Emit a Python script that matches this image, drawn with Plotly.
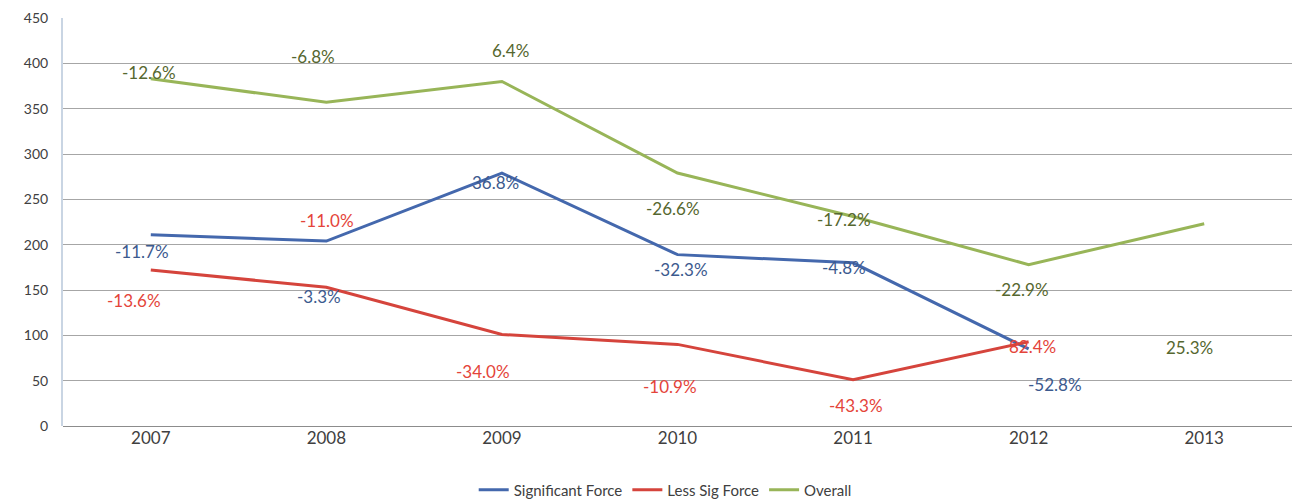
import plotly.graph_objects as go

years = ["2007", "2008", "2009", "2010", "2011", "2012", "2013"]
sig_force = [211, 204, 279, 189, 180, 85]
less_sig_force = [172, 153, 101, 90, 51, 93]
overall = [383, 357, 380, 279, 231, 178, 223]

sig_labels = ["-11.7%", "-3.3%", "36.8%", "-32.3%", "-4.8%", "-52.8%"]
less_labels = ["-13.6%", "-11.0%", "-34.0%", "-10.9%", "-43.3%", "82.4%"]
overall_labels = ["-12.6%", "-6.8%", "6.4%", "-26.6%", "-17.2%", "-22.9%", "25.3%"]

# label offsets (pixels) relative to each point
sig_dx = [-9, -7, -6, 3, -9, 26]
sig_dy = [-17, -55, -9, -15, -5, -36]
less_dx = [-17, 1, -19, -8, 3, 4]
less_dy = [-30, 67, -37, -42, -26, -5]
over_dx = [-2, -13, 9, -5, -9, -7, -15]
over_dy = [6, 46, 31, -35, -3, -25, -124]

C_BLUE, C_RED, C_GREEN = "#4468ad", "#d5443c", "#98b558"
T_BLUE, T_RED, T_GREEN = "#3c5a8e", "#e4443a", "#56672f"
FONT = "Lato, 'Open Sans', sans-serif"

fig = go.Figure()
fig.add_trace(go.Scatter(x=years[:len(sig_force)], y=sig_force, mode="lines",
                         name="Significant Force", line=dict(color=C_BLUE, width=3)))
fig.add_trace(go.Scatter(x=years[:len(less_sig_force)], y=less_sig_force, mode="lines",
                         name="Less Sig Force", line=dict(color=C_RED, width=3)))
fig.add_trace(go.Scatter(x=years, y=overall, mode="lines",
                         name="Overall", line=dict(color=C_GREEN, width=3)))

ann = []
def add_labels(vals, labels, dxs, dys, color):
    for i, (v, t, dx, dy) in enumerate(zip(vals, labels, dxs, dys)):
        ann.append(dict(x=i, y=v, xref="x", yref="y", text=t, showarrow=False,
                        xshift=dx, yshift=dy,
                        font=dict(family=FONT, size=17, color=color)))

add_labels(overall, overall_labels, over_dx, over_dy, T_GREEN)
add_labels(sig_force, sig_labels, sig_dx, sig_dy, T_BLUE)
add_labels(less_sig_force, less_labels, less_dx, less_dy, T_RED)

fig.update_layout(
    width=1306, height=503,
    margin=dict(l=63, r=14, t=18, b=77, autoexpand=False),
    paper_bgcolor="white", plot_bgcolor="white",
    font=dict(family=FONT, color="#404040"),
    annotations=ann,
    showlegend=True,
    legend=dict(orientation="h", x=0.49, xanchor="center", y=-0.157, yanchor="middle",
                font=dict(size=15, color="#404040"), itemwidth=30, tracegroupgap=0),
)
fig.update_xaxes(type="category", range=[-0.5, 6.5], showgrid=False,
                 tickfont=dict(size=17, color="#404040"), ticks="",
                 showline=False, zeroline=False, automargin=False)
fig.update_yaxes(range=[0, 450], dtick=50, showgrid=True, gridcolor="#a6a6a6",
                 gridwidth=1, tickfont=dict(size=14, color="#404040"),
                 showline=True, linecolor="#c9d5e3", linewidth=2,
                 zeroline=True, zerolinecolor="#8c8c8c", zerolinewidth=1,
                 ticks="", ticklabelstandoff=10, automargin=False)

fig.write_html("out.html", config={"displayModeBar": False},
               post_script="document.body.style.margin='0';document.body.style.overflow='hidden';")
